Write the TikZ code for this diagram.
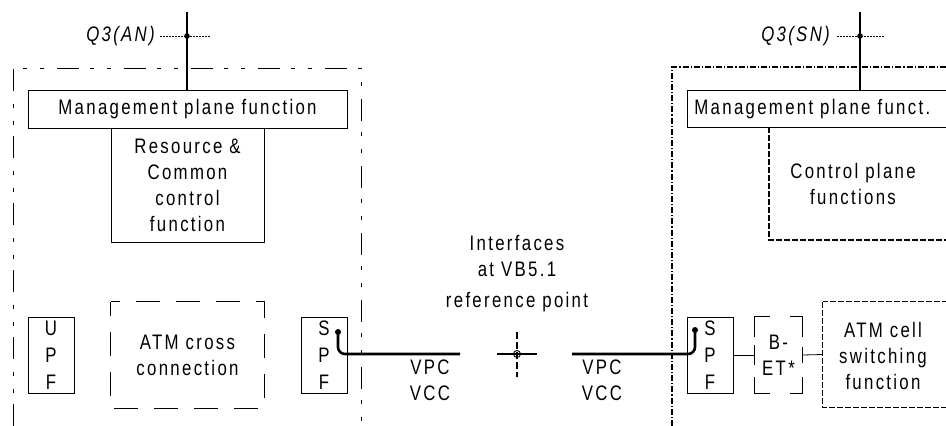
\documentclass[tikz,border=0pt]{standalone}
\usepackage{fontspec}
\setmainfont{Liberation Sans}[FakeStretch=0.80, LetterSpace=11]
\begin{document}
\begin{tikzpicture}[x=1pt,y=-1pt,
  every node/.style={font=\fontsize{21}{26}\selectfont, inner sep=0pt, align=center},
  box/.style={draw, line width=0.8pt},
  thickln/.style={line width=2.6pt},
  outerL/.style={line width=0.8pt, dash pattern=on 22pt off 11pt on 4pt off 13pt on 4pt off 13pt},
  outerR/.style={line width=1.1pt, dash pattern=on 6pt off 2pt on 1.2pt off 2pt},
  finedash/.style={line width=1.1pt, dash pattern=on 6pt off 2pt},
  bigdash/.style={line width=0.8pt, dash pattern=on 24pt off 16pt},
  dotln/.style={line width=1pt, dash pattern=on 2pt off 1pt},
  thin/.style={line width=0.8pt}]
\useasboundingbox (0,0) rectangle (946,426);
\clip (0,0) rectangle (946,426);

% ---------- left network element ----------
\draw[outerL] (13,426) -- (13,68) -- (361,68) -- (361,426);
\node[box, minimum width=319pt, minimum height=38pt] (mgmtL) at (187.5,109) {Management plane function};
\node[box, minimum width=153pt, minimum height=114pt] (resL) at (187.5,185) {Resource \&\\Common\\control\\function};
\node[box, minimum width=46pt, minimum height=76pt] (upf) at (51,355) {U\\[1pt]P\\[1pt]F};
\node[minimum width=153pt, minimum height=106pt] (atmx) at (187.5,355) {ATM cross\\connection};
\draw[bigdash, dash phase=10pt] (atmx.north west) rectangle (atmx.south east);
\node[box, minimum width=46pt, minimum height=76pt] (spfL) at (324,355) {S\\[1pt]P\\[1pt]F};

% Q3(AN)
\coordinate (qa) at (187,36);
\coordinate (qatop) at (187,12);
\coordinate (qal) at (160,36);
\coordinate (qar) at (210,36);
\node[anchor=east, font=\fontsize{21}{26}\selectfont\itshape] (q3an) at (155,36) {Q3(AN)};
\draw[dotln] (qal) -- (qar);
\draw[thickln] (qatop) -- (qa |- mgmtL.north);
\fill (qa) circle (2.8pt);

% left connection
\coordinate (dotL) at (338,332);
\coordinate (lineLend) at (460,354);
\draw[thickln, rounded corners=7pt] (dotL) |- (lineLend);
\fill (dotL) circle (3pt);
\node (vpcL) at (430,380) {VPC\\VCC};

% ---------- reference point ----------
\node (intf) at (517,274) {Interfaces\\at VB5.1\\[5pt]reference point};
\coordinate (rp) at (517,354);
\coordinate (rpl) at (497,354);
\coordinate (rpr) at (537,354);
\coordinate (rpt) at (517,332);
\coordinate (rpb) at (517,377);
\draw[line width=1.4pt] (rpl) -- (rpr);
\draw[line width=1.4pt, dash pattern=on 7pt off 3pt] (rpt) -- (rpb);
\draw[line width=0.9pt] (rp) circle (3.5pt);

% ---------- right network element ----------
\draw[outerR] (672,426) -- (672,67) -- (960,67);
\node[box, anchor=north west, minimum width=280pt, minimum height=37pt, inner xsep=7pt, align=left, text width=266pt] (mgmtR) at (687,90) {Management plane funct.};
\coordinate (ctrlTL) at (769,127);
\coordinate (ctrlBL) at (769,240);
\coordinate (ctrlBR) at (960,240);
\draw[finedash] (ctrlTL) -- (ctrlBL) -- (ctrlBR);
\node (ctrl) at (853,184) {Control plane\\functions};

% Q3(SN)
\coordinate (qs) at (860,36);
\coordinate (qstop) at (860,12);
\coordinate (qsl) at (837,36);
\coordinate (qsr) at (884,36);
\node[anchor=east, font=\fontsize{21}{26}\selectfont\itshape] (q3sn) at (830,36) {Q3(SN)};
\draw[dotln] (qsl) -- (qsr);
\draw[thickln] (qstop) -- (qs |- mgmtR.north);
\fill (qs) circle (2.8pt);

\node[box, minimum width=46pt, minimum height=76pt] (spfR) at (710,355) {S\\[1pt]P\\[1pt]F};
\coordinate (dotR) at (695,330);
\coordinate (lineRstart) at (572,354);
\draw[thickln, rounded corners=7pt] (lineRstart) -| (dotR);
\fill (dotR) circle (3pt);
\node (vpcR) at (602,380) {VPC\\VCC};

% B-ET*
\node[minimum width=47pt, minimum height=76pt] (bet) at (778.5,355) {B-\\ET*};
\draw[thin] (bet.north west) ++(0,20) -- (bet.north west) -- ++(15,0);
\draw[thin] (bet.north east) ++(0,20) -- (bet.north east) -- ++(-12,0);
\draw[thin] (bet.south west) ++(0,-16) -- (bet.south west) -- ++(15,0);
\draw[thin] (bet.south east) ++(0,-16) -- (bet.south east) -- ++(-12,0);
\draw[thin] (bet.west) ++(0,-10) -- ++(0,20);
\draw[thin] (bet.east) ++(0,-8) -- ++(0,16);

% ATM cell switching
\node[minimum width=137pt, minimum height=105pt] (atmc) at (891.5,354.5) {};
\node (atmctext) at (883,356) {ATM cell\\switching\\function};
\draw[finedash] (atmc.north west) rectangle (atmc.south east);

\draw[thin] (spfR.east) -- (bet.west);
\draw[thin] (bet.east) -- (atmc.west);
\end{tikzpicture}
\end{document}
